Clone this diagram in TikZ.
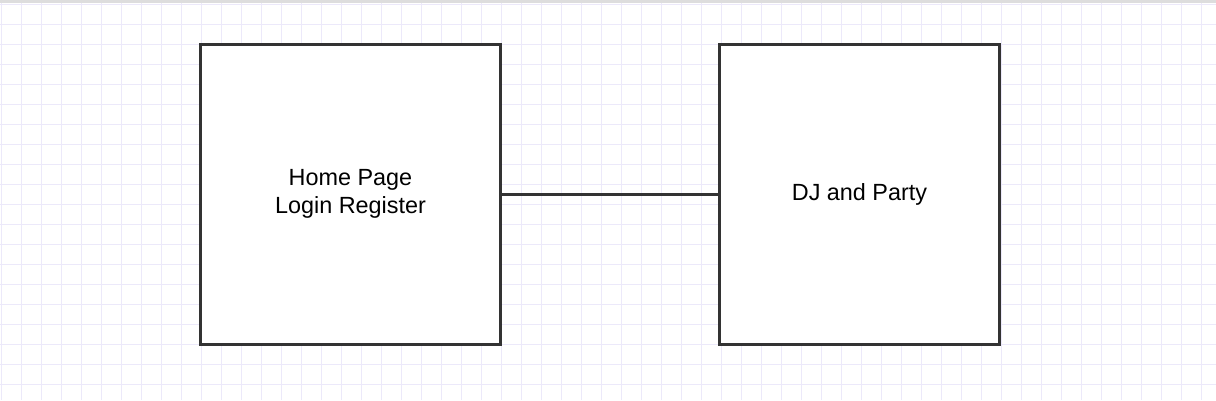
\documentclass[tikz,border=0pt]{standalone}
\usepackage{fontspec}
\setmainfont{Liberation Sans}
\definecolor{GridClr}{RGB}{236,233,250}
\definecolor{ShapeClr}{RGB}{51,51,51}
\definecolor{BarClr}{RGB}{221,221,221}
\tikzset{
  pagebox/.style={draw=ShapeClr,line width=3pt,fill=white,minimum height=300pt,
    align=center,inner sep=0pt,font=\fontsize{23.4}{28}\selectfont},
  link/.style={draw=ShapeClr,line width=3pt}
}

\begin{document}
\begin{tikzpicture}[x=1pt,y=-1pt]
\useasboundingbox (0,0) rectangle (1216,400);
\fill[white] (0,0) rectangle (1216,400);

\foreach \gx in {1,21,...,1201} \draw[GridClr,line width=1pt] (\gx,0) -- (\gx,400);
\foreach \gy in {4,24,...,384} \draw[GridClr,line width=1pt] (0,\gy) -- (1216,\gy);
\fill[BarClr] (0,0) rectangle (1216,3);

\node[pagebox,minimum width=300pt] (home) at (350.5,194) {Home Page\\Login Register};
\node[pagebox,minimum width=280pt] (party) at (859.5,194) {DJ and Party};

\draw[link] (home.east) -- (party.west);

\end{tikzpicture}
\end{document}
